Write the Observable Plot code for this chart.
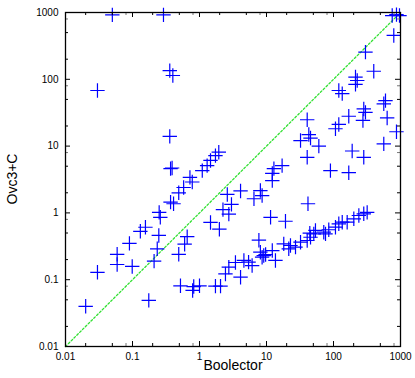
<!DOCTYPE html>
<html>
<head>
<meta charset="utf-8">
<script src="https://cdn.jsdelivr.net/npm/d3@7"></script>
<script src="https://cdn.jsdelivr.net/npm/@observablehq/plot@0.6"></script>
<style>
  html, body { margin: 0; padding: 0; background: #fff; }
</style>
</head>
<body>
<div id="chart"></div>
<script>
// Boolector time (x) vs Ovc3+C time (y), seconds
const boolector = [
  0.05, 0.29, 0.03, 0.36, 0.40, 0.36, 0.37, 0.39, 0.72, 1.1,
  1.3, 1.46, 1.73, 1.94, 0.78, 0.58, 0.49, 0.37, 0.41, 0.25,
  0.26, 0.156, 0.131, 0.09, 0.099, 0.059, 0.059, 0.03, 0.02, 0.175,
  0.21, 0.234, 0.247, 0.49, 0.6, 0.655, 1.46, 1.98, 2.74, 2.24,
  3.0, 2.6, 4.1, 6.5, 8.1, 8.6, 11.5, 19.2, 41.6, 7.7,
  0.52, 0.82, 0.79, 1.0, 1.73, 2.06, 2.44, 2.74, 3.44, 4.1,
  4.6, 5.4, 6.1, 8.1, 8.6, 9.7, 12.2, 13.6, 18.1, 21.5,
  22.8, 27.1, 32.2, 40.5, 45.4, 50.8, 53.8, 44.3, 76, 85,
  107, 120, 135, 160, 201, 239, 283, 318, 71.6, 9.1,
  300, 399, 213, 226, 213, 120, 135, 597, 563, 283,
  300, 169, 632, 275, 40.5, 120, 107, 871, 42.8, 45.4,
  32.2, 60.4, 40.5, 563, 190, 283, 90, 169, 17.1, 12.9,
  12.2, 12.2, 794, 752, 871, 966
];
const ovc3c = [
  920, 920, 68, 135, 114, 14, 4.6, 4.7, 3.4, 4.3,
  5.1, 6.1, 7.2, 8.1, 2.9, 2.4, 2.0, 1.45, 1.37, 1.02,
  0.86, 0.61, 0.53, 0.35, 0.158, 0.24, 0.169, 0.129, 0.04, 0.049,
  0.19, 0.29, 0.46, 0.24, 0.34, 0.44, 0.72, 0.57, 0.96, 1.12,
  1.34, 1.89, 2.13, 1.63, 2.16, 1.82, 0.86, 0.75, 1.37, 0.39,
  0.081, 0.079, 0.069, 0.081, 0.08, 0.08, 0.122, 0.154, 0.181, 0.109,
  0.194, 0.183, 0.163, 0.258, 0.217, 0.238, 0.273, 0.194, 0.344, 0.29,
  0.325, 0.307, 0.364, 0.386, 0.432, 0.486, 0.546, 0.497, 0.486, 0.559,
  0.611, 0.687, 0.726, 0.726, 0.816, 0.915, 0.97, 1.02, 0.514, 0.23,
  255, 132, 108, 96, 84, 68, 61, 48, 43, 36,
  32, 28, 26.4, 24.2, 24.8, 21.1, 18.2, 16.4, 14.9, 13.2,
  12.1, 10, 6.8, 10.8, 8.45, 6.8, 4.3, 4.0, 5.1, 4.6,
  3.9, 3.05, 453, 900, 930, 900
];
const majorTicks = [0.01, 0.1, 1, 10, 100, 1000];
const minorTicks = [0.02, 0.05, 0.2, 0.5, 2, 5, 20, 50, 200, 500];
const eighthTicks = [0.08, 0.8, 8, 80, 800];
const diagonal = [0.01, 1000];
const xLabel = ["Boolector"];
const yLabel = "Ovc3+C";

const W = 415, H = 378, mL = 65, mR = 15, mT = 12, mB = 32;
const innerW = W - mL - mR, innerH = H - mT - mB;
const MAJ = 5, MIN = 3;

const points = boolector.map((b, i) => ({x: b, y: ovc3c[i]}));
const diagData = diagonal.map(v => ({x: v, y: v}));

const cross = {
  draw(context, size) {
    const r = Math.sqrt(size / Math.PI);
    context.moveTo(-r, 0); context.lineTo(r, 0);
    context.moveTo(0, -r); context.lineTo(0, r);
  }
};

const fmt = d => String(d);
const ticksX = (vals, len, color) => [
  Plot.tickX(vals, {x: d => d, insetTop: innerH - len, stroke: color, strokeWidth: 1}),
  Plot.tickX(vals, {x: d => d, insetBottom: innerH - len, stroke: color, strokeWidth: 1})
];
const ticksY = (vals, len, color) => [
  Plot.tickY(vals, {y: d => d, insetRight: innerW - len, stroke: color, strokeWidth: 1}),
  Plot.tickY(vals, {y: d => d, insetLeft: innerW - len, stroke: color, strokeWidth: 1})
];

const chart = Plot.plot({
  width: W, height: H,
  marginLeft: mL, marginRight: mR, marginTop: mT, marginBottom: mB,
  style: {fontFamily: "'Liberation Sans', Arial, sans-serif", fontSize: "10px", color: "#000", background: "#fff"},
  x: {type: "log", domain: [0.01, 1000], ticks: majorTicks, tickFormat: fmt, tickSize: 0, tickPadding: 6, label: null},
  y: {type: "log", domain: [0.01, 1000], ticks: majorTicks, tickFormat: fmt, tickSize: 0, tickPadding: 7, label: null},
  marks: [
    Plot.line(diagData, {x: "x", y: "y", stroke: "#33e033", strokeWidth: 1.3, strokeDasharray: "2,2"}),
    Plot.dot(points, {x: "x", y: "y", symbol: cross, r: 7.2, fill: "none", stroke: "#0000ff", strokeWidth: 1.2}),
    ...ticksX(majorTicks, MAJ, "#000"),
    ...ticksX(minorTicks, MIN, "#000"),
    ...ticksX(eighthTicks, MIN, "#777"),
    ...ticksY(majorTicks, MAJ, "#000"),
    ...ticksY(minorTicks, MIN, "#000"),
    ...ticksY(eighthTicks, MIN, "#777"),
    Plot.frame({stroke: "#000", strokeWidth: 1.3}),
    Plot.text(xLabel, {text: d => d, frameAnchor: "bottom", dy: 23.5, fontSize: 14})
  ]
});
document.getElementById("chart").appendChild(chart);

// rotated y-axis title, centred on the plot frame
d3.select(chart).append("text")
  .attr("transform", `translate(12,${mT + innerH / 2}) rotate(-90)`)
  .attr("text-anchor", "middle")
  .attr("dy", "0.35em")
  .attr("font-size", 14)
  .attr("fill", "#000")
  .text(yLabel);
</script>
</body>
</html>
